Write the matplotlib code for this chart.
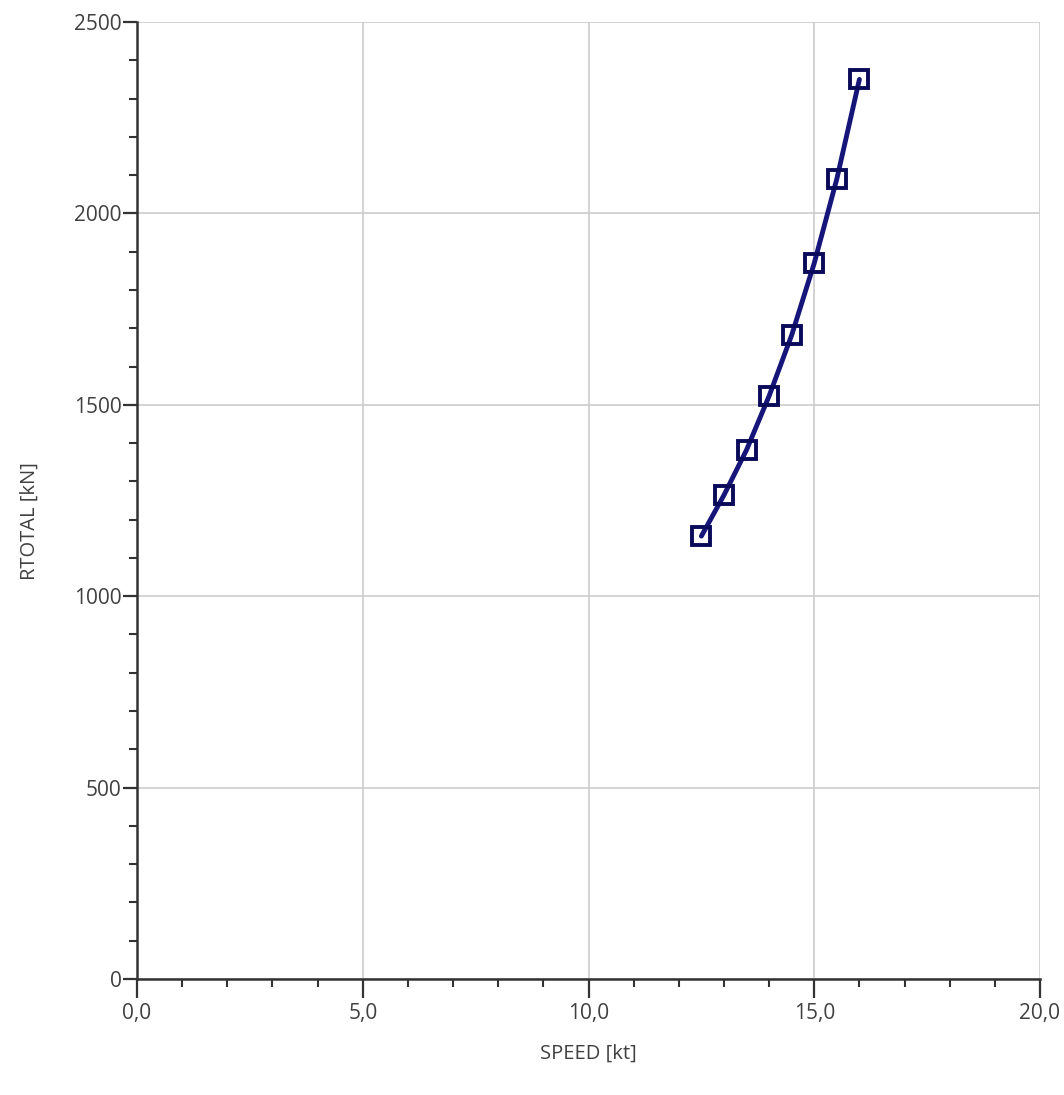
import matplotlib
matplotlib.use("Agg")
import matplotlib.pyplot as plt
from matplotlib.ticker import MultipleLocator, FuncFormatter

speed = [12.5, 13.0, 13.5, 14.0, 14.5, 15.0, 15.5, 16.0]
rtotal = [1157, 1264, 1382, 1523, 1682, 1870, 2090, 2350]

plt.rcParams['font.family'] = ['Open Sans', 'DejaVu Sans']

fig = plt.figure(figsize=(10.64, 10.95), dpi=100)
ax = fig.add_axes([137/1064, 116/1095, 903/1064, 957/1095])

ax.plot(speed, rtotal, color='#16167a', lw=3.5, marker='s', markersize=13,
        markerfacecolor='none', markeredgecolor='#0a0a5a', markeredgewidth=2.8,
        solid_capstyle='round', zorder=3)

ax.set_xlim(0, 20)
ax.set_ylim(0, 2500)
ax.xaxis.set_major_locator(MultipleLocator(5))
ax.xaxis.set_minor_locator(MultipleLocator(1))
ax.yaxis.set_major_locator(MultipleLocator(500))
ax.yaxis.set_minor_locator(MultipleLocator(100))
ax.xaxis.set_major_formatter(FuncFormatter(lambda v, p: f"{v:.1f}".replace('.', ',')))
ax.yaxis.set_major_formatter(FuncFormatter(lambda v, p: f"{int(v)}"))

ax.grid(True, which='major', color='#cccccc', lw=1.2)
ax.set_axisbelow(True)
for s in ['top', 'right']:
    ax.spines[s].set_visible(False)
for s in ['left', 'bottom']:
    ax.spines[s].set_color('#333333')
    ax.spines[s].set_linewidth(1.8)

ax.tick_params(which='major', length=14, width=1.6, color='#333333',
               labelsize=15, labelcolor='#404040', direction='out')
ax.tick_params(axis='x', which='minor', length=6, width=1.5, color='#333333', direction='out')
ax.tick_params(axis='y', which='minor', length=6, width=1.5, color='#333333', direction='out')
ax.tick_params(axis='y', which='major', length=10, pad=1)
ax.tick_params(axis='x', which='major', pad=3)

ax.set_xlabel('SPEED [kt]', fontsize=14.5, color='#404040')
ax.set_ylabel('RTOTAL [kN]', fontsize=14.5, color='#404040')
ax.xaxis.set_label_coords(0.5, -0.068)
ax.yaxis.set_label_coords(-0.108, 0.478)

fig.savefig('out.png', dpi=100)
